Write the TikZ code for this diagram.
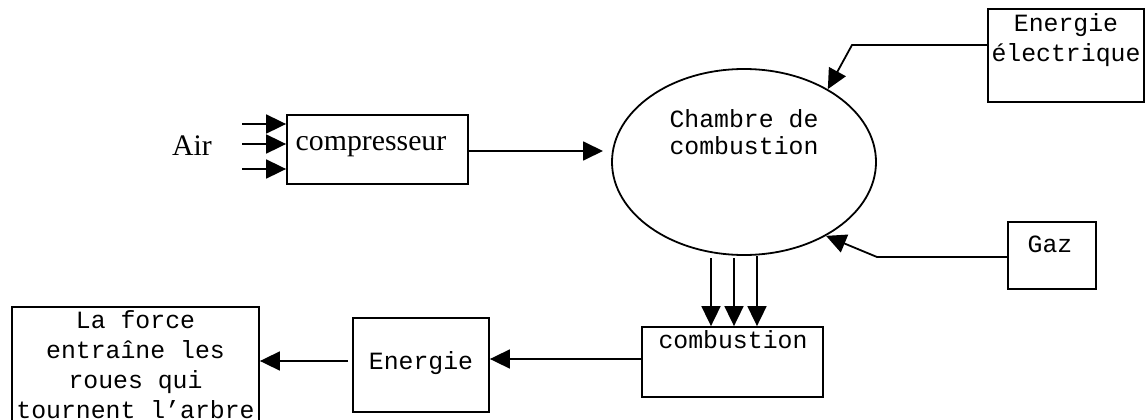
\documentclass[tikz,border=0pt]{standalone}
\usepackage{fontspec}
\usetikzlibrary{arrows.meta,shapes.geometric}
\newfontfamily\monofnt{Liberation Mono}
\newfontfamily\romfnt{Liberation Serif}

\tikzset{
  box/.style={draw, rectangle, line width=1.8pt, inner sep=0pt},
  chamber/.style={draw, ellipse, line width=1.8pt, inner sep=0pt,
    minimum width=264pt, minimum height=186pt},
  mono/.style={anchor=base, inner sep=0pt, font=\monofnt\fontsize{24.8}{30}\selectfont},
  roman/.style={anchor=base, inner sep=0pt, font=\romfnt\fontsize{29.8}{34}\selectfont},
  arr/.style={line width=1.8pt, -{Triangle[length=20pt,width=19pt]}},
  plain/.style={line width=1.8pt}
}

\begin{document}
\begin{tikzpicture}[x=1pt,y=-1pt]
  \useasboundingbox (0,0) rectangle (1146,420);
  \clip (0,0) rectangle (1146,420);

  % blocks
  \node[box, minimum width=181pt, minimum height=69pt] (comp) at (377.5,149.5) {};
  \node[chamber] (ch) at (744,162) {};
  \node[box, minimum width=156pt, minimum height=93pt] (elec) at (1066,55.5) {};
  \node[box, minimum width=88pt, minimum height=67pt] (gaz) at (1052,255.5) {};
  \node[box, minimum width=181pt, minimum height=70pt] (comb) at (732.5,362) {};
  \node[box, minimum width=136pt, minimum height=94pt] (ener) at (421,365) {};
  \node[box, minimum width=247pt, minimum height=125pt] (force) at (135.5,369.5) {};

  % labels
  \node[roman] (tair) at (192,155) {Air};
  \node[roman] (tcomp) at (371,150) {compresseur};
  \node[mono] (tch1) at (744,127) {Chambre de};
  \node[mono] (tch2) at (744,154) {combustion};
  \node[mono] (tel1) at (1066,32) {Energie};
  \node[mono] (tel2) at (1066,62) {électrique};
  \node[mono] (tgaz) at (1050,252) {Gaz};
  \node[mono] (tcomb) at (733,348) {combustion};
  \node[mono] (tener) at (421,369) {Energie};
  \node[mono] (tf1) at (135.5,328) {La force};
  \node[mono] (tf2) at (135.5,358) {entraîne les};
  \node[mono] (tf3) at (135.5,388) {roues qui};
  \node[mono] (tf4) at (135.5,418) {tournent l’arbre};

  % air intake
  \coordinate (a1) at (242,124);
  \coordinate (a2) at (242,144);
  \coordinate (a3) at (242,169);
  \draw[arr] (a1) -- (a1 -| comp.west);
  \draw[arr] (a2) -- (a2 -| comp.west);
  \draw[arr] (a3) -- (a3 -| comp.west);

  % compressor to chamber
  \coordinate (cin) at (603,151);
  \draw[arr] (comp.east |- cin) -- (cin);

  % electrical energy to chamber
  \coordinate (ebend) at (852,45);
  \draw[arr] (elec.west |- ebend) -- (ebend) -- (ch.41);

  % gas to chamber
  \coordinate (gbend) at (877,257);
  \draw[arr] (gaz.west |- gbend) -- (gbend) -- (ch.-42);

  % chamber outputs to combustion
  \coordinate (d1) at (711,258);
  \coordinate (d2) at (734,258);
  \coordinate (d3) at (757,256);
  \draw[arr] (d1) -- (d1 |- comb.north);
  \draw[arr] (d2) -- (d2 |- comb.north);
  \draw[arr] (d3) -- (d3 |- comb.north);

  % combustion to energy to force
  \coordinate (l1) at (642,359);
  \draw[arr] (comb.west |- l1) -- (ener.east |- l1);
  \coordinate (l2) at (348,361);
  \draw[arr] (l2) -- (force.east |- l2);
\end{tikzpicture}
\end{document}
